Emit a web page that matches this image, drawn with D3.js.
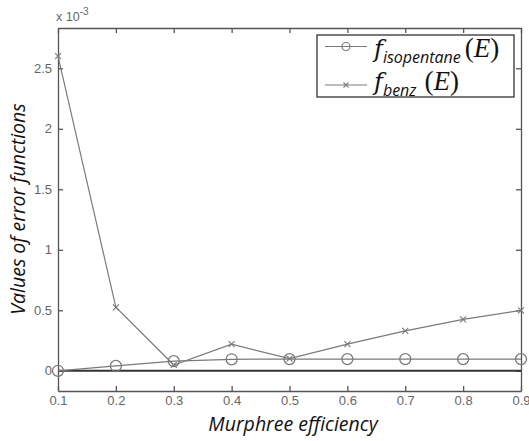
<!DOCTYPE html>
<html>
<head>
<meta charset="utf-8">
<script src="https://cdn.jsdelivr.net/npm/d3@7"></script>
<style>
  body { margin: 0; background: #fff; }
  .tick text { font-family: "Liberation Sans", Arial, sans-serif; font-size: 13px; fill: #666; }
</style>
</head>
<body>
<script>
// data (values in units of 1e-3)
const efficiency = [0.1, 0.2, 0.3, 0.4, 0.5, 0.6, 0.7, 0.8, 0.9];
const isopentane = [0.0, 0.04, 0.08, 0.095, 0.097, 0.097, 0.097, 0.097, 0.097];
const benz = [2.6, 0.525, 0.048, 0.22, 0.1, 0.22, 0.33, 0.425, 0.5];
const xTicks = [0.1, 0.2, 0.3, 0.4, 0.5, 0.6, 0.7, 0.8, 0.9];
const yTicks = [0, 0.5, 1, 1.5, 2, 2.5];

const width = 529, height = 441;
const mLeft = 58, mRight = 521, mTop = 28, mBottom = 391;

const svg = d3.select("body").append("svg")
  .attr("width", width)
  .attr("height", height);

const x = d3.scaleLinear().domain([0.1, 0.9]).range([mLeft, mRight]);
const y = d3.scaleLinear().domain([-0.167, 2.833]).range([mBottom, mTop]);

// axes with inward ticks
svg.append("g")
  .attr("transform", "translate(0," + mBottom + ")")
  .call(d3.axisBottom(x).tickValues(xTicks).tickFormat(d3.format(".1f")).tickSizeInner(-5).tickSizeOuter(0).tickPadding(5));
svg.append("g")
  .attr("transform", "translate(0," + mTop + ")")
  .call(d3.axisTop(x).tickValues(xTicks).tickFormat("").tickSizeInner(-5).tickSizeOuter(0));
svg.append("g")
  .attr("transform", "translate(" + mLeft + ",0)")
  .call(d3.axisLeft(y).tickValues(yTicks).tickFormat(d => d === 0 ? "0" : d3.format("")(d)).tickSizeInner(-5).tickSizeOuter(0).tickPadding(6));
svg.append("g")
  .attr("transform", "translate(" + mRight + ",0)")
  .call(d3.axisRight(y).tickValues(yTicks).tickFormat("").tickSizeInner(-5).tickSizeOuter(0));

svg.selectAll(".domain").attr("stroke", "#555").attr("stroke-width", 1.3);
svg.selectAll(".tick line").attr("stroke", "#555").attr("stroke-width", 1.3);

// zero line
svg.append("line")
  .attr("x1", mLeft).attr("x2", mRight)
  .attr("y1", y(0)).attr("y2", y(0))
  .attr("stroke", "#333").attr("stroke-width", 2);

// exponent label
const ex = svg.append("text")
  .attr("x", mLeft - 2).attr("y", 21)
  .attr("font-family", "Liberation Sans, Arial, sans-serif")
  .attr("font-size", 12.5).attr("fill", "#666");
ex.append("tspan").text("x 10");
ex.append("tspan").attr("dy", -6).attr("font-size", 10).text("-3");

const line = d3.line().x((d, i) => x(efficiency[i])).y(d => y(d));
const col = "#7a7a7a";

svg.append("path").datum(isopentane)
  .attr("d", line).attr("fill", "none").attr("stroke", col).attr("stroke-width", 1.2);
svg.append("path").datum(benz)
  .attr("d", line).attr("fill", "none").attr("stroke", col).attr("stroke-width", 1.2);

svg.selectAll("circle.iso").data(isopentane).join("circle")
  .attr("class", "iso")
  .attr("cx", (d, i) => x(efficiency[i])).attr("cy", d => y(d))
  .attr("r", 5.5).attr("fill", "none").attr("stroke", col).attr("stroke-width", 1.3);

function cross(g, cx, cy, s) {
  g.append("path")
    .attr("d", `M${cx - s},${cy - s}L${cx + s},${cy + s}M${cx - s},${cy + s}L${cx + s},${cy - s}`)
    .attr("stroke", col).attr("stroke-width", 1.1).attr("fill", "none");
}
const crosses = svg.append("g");
benz.forEach((d, i) => cross(crosses, x(efficiency[i]), y(d), 3));

// legend
const lg = svg.append("g");
lg.append("rect")
  .attr("x", 317).attr("y", 35).attr("width", 197).attr("height", 62)
  .attr("fill", "#fff").attr("stroke", "#333").attr("stroke-width", 1.3);
lg.append("line").attr("x1", 325).attr("x2", 367).attr("y1", 46.5).attr("y2", 46.5).attr("stroke", col).attr("stroke-width", 1.2);
lg.append("circle").attr("cx", 346).attr("cy", 46.5).attr("r", 4).attr("fill", "none").attr("stroke", col).attr("stroke-width", 1.2);
lg.append("line").attr("x1", 325).attr("x2", 367).attr("y1", 85).attr("y2", 85).attr("stroke", col).attr("stroke-width", 1.2);
cross(lg, 346, 85, 2.5);

function legendLabel(yy, sub, gap) {
  const t = lg.append("text").attr("x", 374).attr("y", yy).attr("fill", "#111");
  t.append("tspan").attr("font-family", "DejaVu Serif, serif").attr("font-style", "italic").attr("font-size", 24).text("f");
  t.append("tspan").attr("dy", 6).attr("font-family", "Open Sans, sans-serif").attr("font-style", "italic").attr("font-size", 16).text(sub);
  t.append("tspan").attr("dy", -6).attr("dx", gap).attr("font-family", "Liberation Serif, serif").attr("font-size", 27).text("(");
  t.append("tspan").attr("font-family", "Liberation Serif, serif").attr("font-style", "italic").attr("font-size", 27).text("E");
  t.append("tspan").attr("font-family", "Liberation Serif, serif").attr("font-size", 27).text(")");
}
legendLabel(57, "isopentane", 4);
legendLabel(90, "benz", 8);

// axis titles
svg.append("text")
  .attr("x", 293).attr("y", 431)
  .attr("text-anchor", "middle")
  .attr("font-family", "Open Sans, sans-serif").attr("font-style", "italic").attr("font-size", 19.5)
  .attr("fill", "#111")
  .text("Murphree efficiency");
svg.append("text")
  .attr("transform", "translate(25,209) rotate(-90)")
  .attr("text-anchor", "middle")
  .attr("font-family", "Open Sans, sans-serif").attr("font-style", "italic").attr("font-size", 19.5)
  .attr("fill", "#111")
  .text("Values of error functions");
</script>
</body>
</html>
